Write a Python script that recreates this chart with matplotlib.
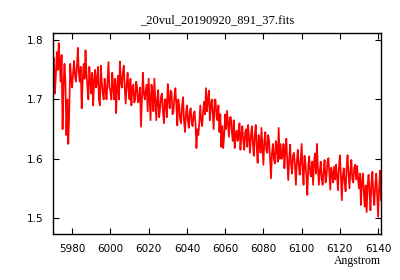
import matplotlib
matplotlib.use("Agg")
import matplotlib.pyplot as plt
import numpy as np

# Spectrum: values at whole Angstroms (5970-6141)
# and at the half-Angstrom points in between (5970.5-6141.5)
wave_start = 5970
flux = [
    1.74, 1.71, 1.78, 1.795, 1.73, 1.65, 1.76, 1.64, 1.625, 1.76,   # 5970-5979
    1.72, 1.765, 1.73, 1.787, 1.73, 1.685, 1.76, 1.783, 1.72, 1.755,  # 5980-5989
    1.71, 1.69, 1.75, 1.73, 1.70, 1.757, 1.71, 1.735, 1.70, 1.763,   # 5990-5999
    1.715, 1.745, 1.70, 1.677, 1.74, 1.764, 1.72, 1.757, 1.693, 1.745,  # 6000-6009
    1.70, 1.69, 1.725, 1.70, 1.72, 1.70, 1.654, 1.745, 1.70, 1.725,  # 6010-6019
    1.735, 1.665, 1.71, 1.735, 1.665, 1.716, 1.684, 1.71, 1.66, 1.70,  # 6020-6029
    1.726, 1.685, 1.712, 1.68, 1.719, 1.656, 1.69, 1.66, 1.704, 1.645,  # 6030-6039
    1.69, 1.652, 1.685, 1.655, 1.68, 1.618, 1.64, 1.69, 1.655, 1.696,  # 6040-6049
    1.719, 1.70, 1.665, 1.70, 1.65, 1.699, 1.665, 1.645, 1.62, 1.618,  # 6050-6059
    1.675, 1.681, 1.637, 1.67, 1.63, 1.618, 1.648, 1.64, 1.615, 1.655,  # 6060-6069
    1.615, 1.65, 1.657, 1.61, 1.655, 1.605, 1.657, 1.593, 1.63, 1.652,  # 6070-6079
    1.59, 1.645, 1.61, 1.63, 1.567, 1.625, 1.592, 1.62, 1.652, 1.625,  # 6080-6089
    1.605, 1.584, 1.634, 1.564, 1.624, 1.575, 1.61, 1.556, 1.615, 1.573,  # 6090-6099
    1.625, 1.556, 1.593, 1.539, 1.604, 1.57, 1.556, 1.609, 1.625, 1.556,  # 6100-6109
    1.595, 1.556, 1.598, 1.57, 1.601, 1.548, 1.575, 1.587, 1.59, 1.547,  # 6110-6119
    1.606, 1.53, 1.584, 1.545, 1.606, 1.55, 1.598, 1.56, 1.59, 1.588,  # 6120-6129
    1.55, 1.522, 1.575, 1.519, 1.51, 1.573, 1.513, 1.578, 1.522, 1.575,  # 6130-6139
    1.502, 1.58,  # 6140-6141
]
flux_half = [
    1.77, 1.74, 1.75, 1.76, 1.775, 1.72, 1.73, 1.70, 1.68, 1.735,   # 5970.5-5979.5
    1.745, 1.74, 1.755, 1.745, 1.755, 1.73, 1.735, 1.745, 1.70, 1.73,  # 5980.5-
    1.745, 1.73, 1.72, 1.755, 1.69, 1.73, 1.70, 1.715, 1.73, 1.72,   # 5990.5-
    1.70, 1.72, 1.735, 1.72, 1.70, 1.73, 1.745, 1.72, 1.725, 1.715,  # 6000.5-
    1.735, 1.72, 1.695, 1.73, 1.695, 1.72, 1.70, 1.71, 1.715, 1.68,  # 6010.5-
    1.70, 1.725, 1.68, 1.70, 1.70, 1.67, 1.705, 1.68, 1.70, 1.67,   # 6020.5-
    1.70, 1.715, 1.675, 1.705, 1.69, 1.70, 1.665, 1.69, 1.665, 1.675,  # 6030.5-
    1.665, 1.68, 1.66, 1.675, 1.66, 1.65, 1.66, 1.665, 1.68, 1.675,  # 6040.5-
    1.68, 1.715, 1.69, 1.675, 1.70, 1.67, 1.69, 1.675, 1.655, 1.64,  # 6050.5-
    1.65, 1.66, 1.67, 1.645, 1.665, 1.64, 1.63, 1.66, 1.64, 1.63,   # 6060.5-
    1.645, 1.62, 1.635, 1.64, 1.625, 1.64, 1.62, 1.64, 1.61, 1.62,  # 6070.5-
    1.63, 1.615, 1.64, 1.60, 1.61, 1.60, 1.63, 1.595, 1.60, 1.60,   # 6080.5-
    1.625, 1.615, 1.595, 1.60, 1.59, 1.605, 1.59, 1.595, 1.59, 1.60,  # 6090.5-
    1.58, 1.605, 1.57, 1.59, 1.575, 1.595, 1.595, 1.575, 1.585, 1.58,  # 6100.5-
    1.565, 1.58, 1.56, 1.595, 1.575, 1.585, 1.56, 1.565, 1.57, 1.585,  # 6110.5-
    1.575, 1.57, 1.56, 1.585, 1.575, 1.58, 1.565, 1.585, 1.565, 1.565,  # 6120.5-
    1.575, 1.56, 1.545, 1.555, 1.555, 1.545, 1.56, 1.54, 1.555, 1.54,  # 6130.5-
    1.55, 1.53,  # 6140.5-6141.5
]

x_ticks = [5980, 6000, 6020, 6040, 6060, 6080, 6100, 6120, 6140]
y_ticks = [1.5, 1.6, 1.7, 1.8]
title = "_20vul_20190920_891_37.fits"

# merge the two grids into one spectrum ordered by wavelength
spec = np.column_stack((flux, flux_half)).ravel()
wave = wave_start + 0.5 * np.arange(len(spec))

fig = plt.figure(figsize=(4, 2.8), dpi=100)
ax = fig.add_axes([0.1325, 0.164, 0.82, 0.718])

ax.plot(wave, spec, color="#ff0000", linewidth=1.25)

ax.set_xlim(5970, 6141.5)
ax.set_ylim(1.473, 1.812)
ax.set_xticks(x_ticks)
ax.set_yticks(y_ticks)
ax.set_yticklabels(["%.1f" % v for v in y_ticks])

ax.tick_params(direction="in", length=4, width=0.8, top=True, right=True,
               labelsize=7.5, pad=7)
for s in ax.spines.values():
    s.set_linewidth(1.0)

ax.set_title(title, fontsize=9, family="Liberation Serif", pad=7)
ax.set_xlabel("Angstrom", fontsize=8.5, family="Liberation Serif",
              loc="right", labelpad=1)

fig.savefig("out.png", dpi=100)
